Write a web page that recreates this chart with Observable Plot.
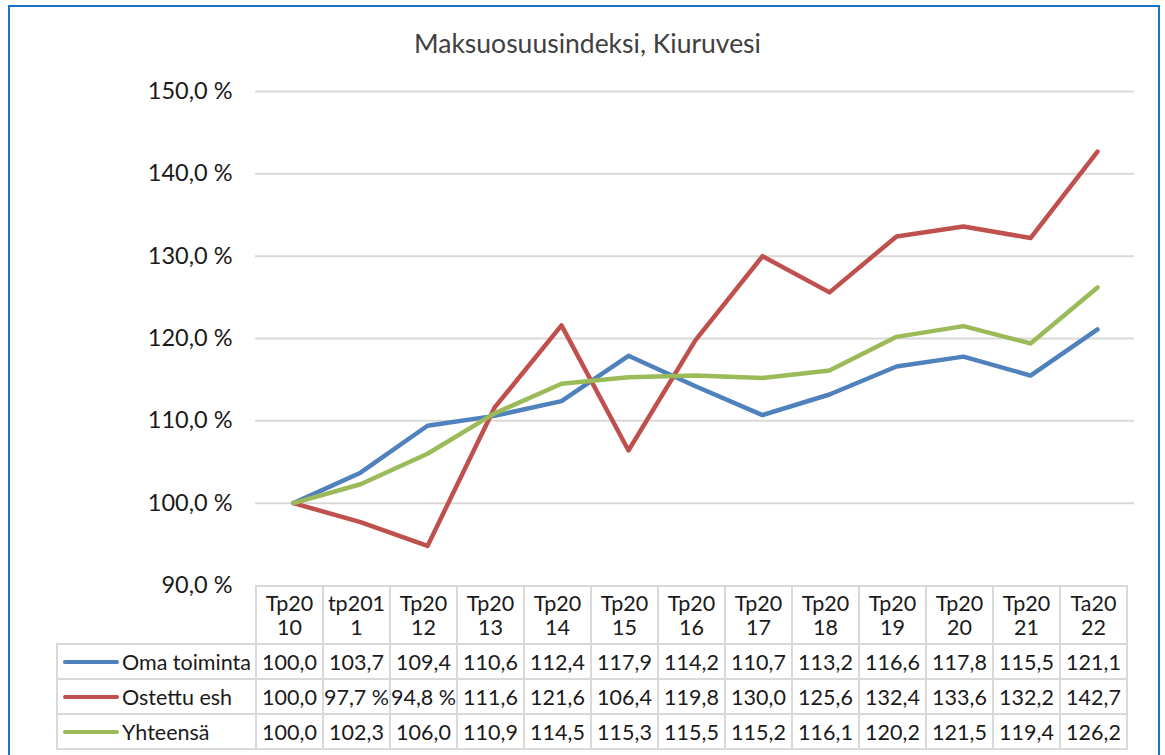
<!DOCTYPE html>
<html>
<head>
<meta charset="utf-8">
<script src="https://cdn.jsdelivr.net/npm/d3@7"></script>
<script src="https://cdn.jsdelivr.net/npm/@observablehq/plot@0.6"></script>
<style>
  html, body { margin: 0; padding: 0; background: #fff; }
  body { width: 1165px; height: 755px; overflow: hidden; font-family: Lato, "Open Sans", sans-serif; }
  #wrap { position: relative; width: 1165px; height: 755px; }
  #frame { position: absolute; left: 8px; top: 5px; width: 1152px; height: 800px; border: 2px solid #1a73c8; box-sizing: border-box; }
  #title { position: absolute; left: 0; top: 27px; width: 1175px; text-align: center; font-size: 26.5px; color: #404040; }
  #chart { position: absolute; left: 0; top: 0; }
  #tbl { position: absolute; left: 56px; top: 585px; border-collapse: collapse; table-layout: fixed; font-size: 21.5px; color: #1a1a1a; }
  #tbl td { border: 2px solid #d9d9d9; text-align: center; padding: 0; white-space: nowrap; overflow: visible; }
  #tbl td.empty { border: none; border-right: 2px solid #d9d9d9; border-bottom: 2px solid #d9d9d9; }
  #tbl tr.head td { height: 56px; line-height: 24px; white-space: pre; }
  #tbl tr.row td { height: 33px; }
  #tbl td.lab { text-align: left; white-space: nowrap; }
  .sw { display: inline-block; width: 56px; height: 4px; border-radius: 2px; vertical-align: middle; margin: 0 3px 0 5px; position: relative; top: -2px; }
</style>
</head>
<body>
<div id="wrap">
  <div id="frame"></div>
  <div id="chart"></div>
  <div id="title"></div>
  <table id="tbl"></table>
</div>
<script>
const title = "Maksuosuusindeksi, Kiuruvesi";
const categories = ["Tp2010","tp2011","Tp2012","Tp2013","Tp2014","Tp2015","Tp2016","Tp2017","Tp2018","Tp2019","Tp2020","Tp2021","Ta2022"];
const tickLabels = ["Tp20\n10","tp201\n1","Tp20\n12","Tp20\n13","Tp20\n14","Tp20\n15","Tp20\n16","Tp20\n17","Tp20\n18","Tp20\n19","Tp20\n20","Tp20\n21","Ta20\n22"];
const seriesNames = ["Oma toiminta","Ostettu esh","Yhteensä"];
const omaToiminta = [100.0,103.7,109.4,110.6,112.4,117.9,114.2,110.7,113.2,116.6,117.8,115.5,121.1];
const ostettuEsh  = [100.0,97.7,94.8,111.6,121.6,106.4,119.8,130.0,125.6,132.4,133.6,132.2,142.7];
const yhteensa    = [100.0,102.3,106.0,110.9,114.5,115.3,115.5,115.2,116.1,120.2,121.5,119.4,126.2];
const colors = ["#4f81bd","#c0504d","#9bbb59"];
const yTicks = [90,100,110,120,130,140,150];

const seriesValues = [omaToiminta, ostettuEsh, yhteensa];
const data = seriesValues.flatMap((vals, s) => vals.map((v, i) => ({series: seriesNames[s], cat: categories[i], value: v})));

document.getElementById("title").textContent = title;

const fmtAxis = d => d.toFixed(1).replace(".", ",") + " %";
const fmtCell = v => v.toFixed(1).replace(".", ",") + (v < 100 ? " %" : "");

const chart = Plot.plot({
  width: 1165,
  height: 605,
  marginLeft: 255,
  marginRight: 31,
  marginTop: 91,
  marginBottom: 20,
  style: {fontFamily: "Lato, 'Open Sans', sans-serif", background: "transparent"},
  x: {type: "point", domain: categories, padding: 0.5, axis: null},
  y: {domain: [90, 150], ticks: yTicks, tickFormat: fmtAxis},
  color: {domain: seriesNames, range: colors},
  marks: [
    Plot.ruleY(yTicks.filter(d => d > 90), {stroke: "#d9d9d9", strokeWidth: 2}),
    Plot.axisY({ticks: yTicks, tickFormat: fmtAxis, tickSize: 0, tickPadding: 23, fontSize: 23.5, fill: "#1a1a1a", label: null}),
    Plot.line(data, {x: "cat", y: "value", z: "series", stroke: "series", strokeWidth: 4.5, strokeLinecap: "round", strokeLinejoin: "round"})
  ]
});
document.getElementById("chart").appendChild(chart);

// data table below the chart, columns aligned with the x scale
const xs = chart.scale("x");
const step = xs.step != null ? xs.step : (879 / categories.length);
const tbl = document.getElementById("tbl");
const colgroup = document.createElement("colgroup");
const c0 = document.createElement("col"); c0.style.width = "199px"; colgroup.appendChild(c0);
categories.forEach(() => { const c = document.createElement("col"); c.style.width = step + "px"; colgroup.appendChild(c); });
tbl.appendChild(colgroup);
tbl.style.width = (199 + step * categories.length) + "px";

const head = document.createElement("tr"); head.className = "head";
const e = document.createElement("td"); e.className = "empty"; head.appendChild(e);
tickLabels.forEach(t => { const td = document.createElement("td"); td.textContent = t; head.appendChild(td); });
tbl.appendChild(head);

seriesNames.forEach((name, s) => {
  const tr = document.createElement("tr"); tr.className = "row";
  const lab = document.createElement("td"); lab.className = "lab";
  const sw = document.createElement("span"); sw.className = "sw"; sw.style.background = colors[s];
  lab.appendChild(sw); lab.appendChild(document.createTextNode(name));
  tr.appendChild(lab);
  seriesValues[s].forEach(v => { const td = document.createElement("td"); td.textContent = fmtCell(v); tr.appendChild(td); });
  tbl.appendChild(tr);
});
</script>
</body>
</html>
